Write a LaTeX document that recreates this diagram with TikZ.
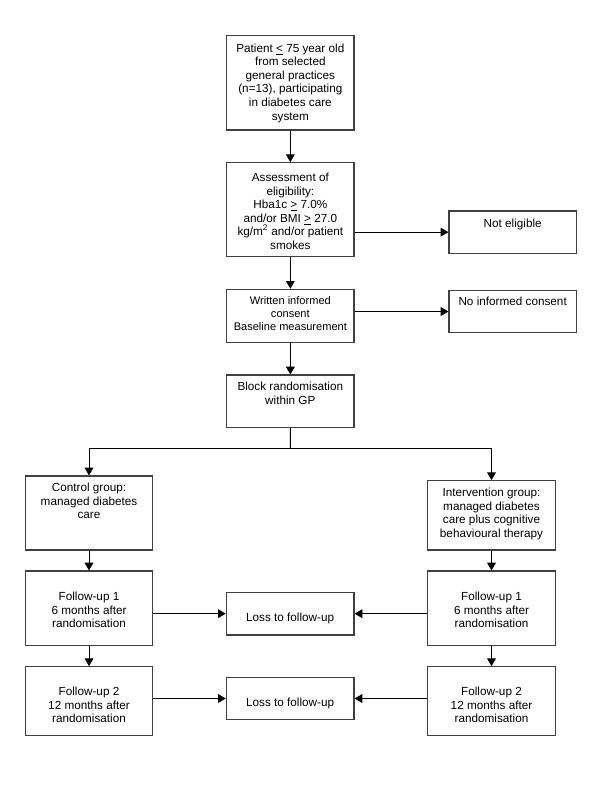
\documentclass[tikz,border=0pt]{standalone}
\usepackage{fontspec}
\setmainfont{Liberation Sans}
\usetikzlibrary{arrows.meta}
\newcommand\bx[5]{\node[box, minimum width={(#4-#2)*0.75pt}, minimum height={(#5-#3)*0.75pt}] (#1) at ({(#2+#4)/2},{(#3+#5)/2}) {};}
\begin{document}
\begin{tikzpicture}[x=0.75pt,y=-0.75pt,
  box/.style={draw=black!75, line width=0.8pt, inner sep=0pt, fill=none},
  txt/.style={align=center, inner sep=0pt, anchor=north, font=\fontsize{8.8}{10.2}\selectfont},
  smalltxt/.style={align=center, inner sep=0pt, anchor=north, font=\fontsize{8.3}{9.6}\selectfont},
  arr/.style={draw=black, line width=0.75pt, -{Triangle[length=5.8pt,width=6.5pt]}},
  ln/.style={draw=black, line width=0.75pt}]
\useasboundingbox (0,0) rectangle (600,785);
% boxes
\bx{b1}{226.7}{35.7}{354}{130}
\bx{b2}{226.7}{162.7}{354}{256.7}
\bx{b3}{226.7}{289.3}{354}{342.3}
\bx{b4}{226.7}{375}{354}{427.7}
\bx{ne}{449}{211}{576.3}{253.3}
\bx{nic}{449}{290.3}{576.3}{332.7}
\bx{ctrl}{25.3}{476}{152.7}{550}
\bx{int}{427.7}{480.7}{555.3}{550}
\bx{fuL}{25.3}{571}{152.7}{645.3}
\bx{fuR}{427.7}{571}{555.3}{645.3}
\bx{fvL}{25.3}{666.7}{152.7}{735.7}
\bx{fvR}{427.7}{666.7}{555.3}{735.7}
\bx{lo}{226.3}{592.3}{354}{635}
\bx{lp}{226.3}{677.3}{354}{719.7}
% texts
\node[txt] (t1) at (290.35,42.3) {\strut Patient \underline{<} 75 year old\\from selected\\general practices\\(n=13), participating\\in diabetes care\\system};
\node[txt] (t2) at (290.35,171.7) {\strut Assessment of\\eligibility:\\Hba1c \underline{>} 7.0\%\\and/or BMI \underline{>} 27.0\\kg/m\textsuperscript{2} and/or patient\\smokes};
\node[smalltxt] (t3) at (290.35,295.7) {\strut Written informed\\consent\\Baseline measurement};
\node[txt] (t4) at (290.35,380.7) {\strut Block randomisation\\within GP};
\node[txt] (t5) at (512.65,217.3) {\strut Not eligible};
\node[txt] (t6) at (512.65,296) {\strut No informed consent};
\node[txt] (t7) at (89,482) {\strut Control group:\\managed diabetes\\care};
\node[txt] (t8) at (491.5,487) {\strut Intervention group:\\managed diabetes\\care plus cognitive\\behavioural therapy};
\node[txt] (t9) at (89,590.7) {\strut Follow-up 1\\6 months after\\randomisation};
\node[txt] (t10) at (491.5,590.7) {\strut Follow-up 1\\6 months after\\randomisation};
\node[txt] (t11) at (89,685.7) {\strut Follow-up 2\\12 months after\\randomisation};
\node[txt] (t12) at (491.5,685.7) {\strut Follow-up 2\\12 months after\\randomisation};
\node[txt] (t13) at (290.15,611.7) {\strut Loss to follow-up};
\node[txt] (t14) at (290.15,696.7) {\strut Loss to follow-up};
% connectors
\draw[arr] (b1.south) -- (b2.north);
\draw[arr] (b2.south) -- (b3.north);
\draw[arr] (b3.south) -- (b4.north);
\draw[arr] (b2.east |- ne.west) -- (ne.west);
\draw[arr] (b3.east |- nic.west) -- (nic.west);
\coordinate (sp) at (290.35,448.3);
\draw[ln] (b4.south) -- (sp);
\draw[arr] (sp) -| (ctrl.north);
\draw[arr] (sp) -| (int.north);
\draw[arr] (ctrl.south) -- (fuL.north);
\draw[arr] (fuL.south) -- (fvL.north);
\draw[arr] (int.south) -- (fuR.north);
\draw[arr] (fuR.south) -- (fvR.north);
\draw[arr] (fuL.east |- lo.west) -- (lo.west);
\draw[arr] (fuR.west |- lo.east) -- (lo.east);
\draw[arr] (fvL.east |- lp.west) -- (lp.west);
\draw[arr] (fvR.west |- lp.east) -- (lp.east);
\end{tikzpicture}
\end{document}
